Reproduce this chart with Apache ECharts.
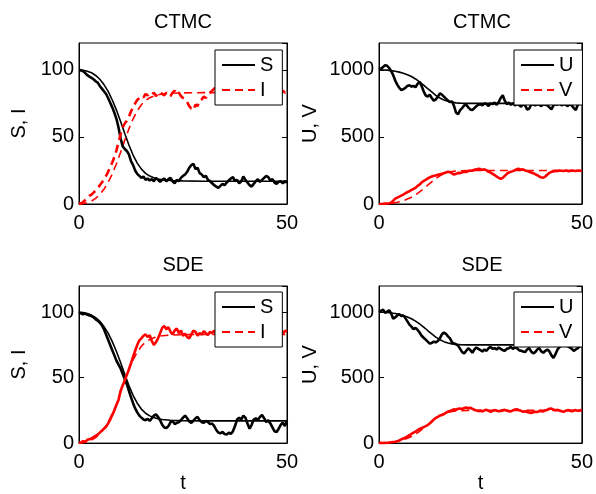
<!DOCTYPE html>
<html>
<head>
<meta charset="utf-8">
<script src="https://cdn.jsdelivr.net/npm/echarts@6/dist/echarts.min.js"></script>
<style>html,body{margin:0;padding:0;background:#fff;}#c{width:596px;height:494px;}</style>
</head>
<body>
<div id="c"></div>
<script>
// ---- time grids ----
var tNoisy = [0,0.5,1,1.5,2,2.5,3,3.5,4,4.5,5,5.5,6,6.5,7,7.5,8,8.5,9,9.5,10,10.5,11,11.5,12,12.5,13,13.5,14,14.5,15,15.5,16,16.5,17,17.5,18,18.5,19,19.5,20,20.5,21,21.5,22,22.5,23,23.5,24,24.5,25,25.5,26,26.5,27,27.5,28,28.5,29,29.5,30,30.5,31,31.5,32,32.5,33,33.5,34,34.5,35,35.5,36,36.5,37,37.5,38,38.5,39,39.5,40,40.5,41,41.5,42,42.5,43,43.5,44,44.5,45,45.5,46,46.5,47,47.5,48,48.5,49,49.5,50];
var tDet = [0,1,2,3,4,5,6,7,8,9,10,11,12,13,14,15,16,17,18,19,20,22,25,30,40,50];

// ---- deterministic solutions ----
var detS = [100,99.7,99,97.8,95.8,93,89,84,77.5,70,61.5,52.5,44,36.5,30.5,26,22.8,20.8,19.5,18.6,18,17.5,17.2,17,17,17];
var detI = [0,0.3,1,2.2,4.2,7,11,16,22.5,30,38.5,47.5,56,63.5,69.5,74,77.2,79.2,80.5,81.4,82,82.5,82.8,83,83,83];
var detU = [1000,999,998,994,990,983,975,963,950,932,910,886,860,835,810,790,775,765,758,754,752,750,750,750,750,750];
var detV = [0,1,2,6,10,17,25,37,50,68,90,114,140,165,190,210,225,235,242,246,248,250,250,250,250,250];

// ---- CTMC sample paths ----
var ctmcS = [100,99.5,99,97.5,96,95,94,93,91.5,90.5,88,86,84,82,79,75.5,72,68,63.5,57,49,43,41,39.5,37,32,29,25,22.5,21,19.5,20.5,18,19,17.5,18.5,17,19.5,18,16.5,18,19,17,18.5,19.5,17,15.5,18,17,19.5,21,22,24,27,29,30,26,27,23,22,20,21,18,17,15.5,14,13,12,13.5,15,14,16,17.5,19,20,17,18,15.5,17,20.5,18,16,14,13,15,17,18.5,16.5,18,19.5,21,20,17.5,18.5,16,15,16.5,17,15.5,17,16];
var ctmcI = [0,0.5,1.5,3,4.5,6,7,8.5,10,11.5,14,16,18.5,21,24,27.5,31,35,40,46,52,57,60,62,65,69,72,75,77.5,79,80.5,79.5,82,81,82.5,81.5,83,80.5,82,83.5,82,81,83,81.5,80.5,83,84.5,82,83,80.5,79,78,76,73,71,70,74,73,77,78,80,79,82,83,84.5,86,87,88,86.5,85,86,84,82.5,81,80,83,82,84.5,83,79.5,82,84,86,87,85,83,81.5,83.5,82,80.5,79,80,82.5,81.5,84,85,83.5,83,84.5,83,84];
var ctmcU = [1000,1010,1020,1035,1030,1015,990,960,920,890,865,850,855,865,880,885,875,880,870,895,910,880,840,810,800,815,790,770,780,800,825,815,800,785,770,760,765,730,680,670,700,715,735,740,720,705,700,715,730,740,745,735,750,745,730,750,745,755,740,760,790,810,770,745,755,740,750,735,745,740,725,745,735,705,710,740,745,735,745,740,730,745,740,735,720,705,735,745,740,750,735,745,740,730,745,735,715,700,740,755,745];
var ctmcV = [0,0,2,3,4,6,10,25,40,48,55,62,70,80,88,95,105,112,120,135,145,160,172,180,190,198,205,210,212,218,222,225,230,235,240,238,228,220,225,232,230,236,240,238,245,250,248,255,258,262,260,255,258,250,240,235,225,215,205,195,188,195,210,225,235,240,245,252,260,262,255,258,250,245,240,235,230,222,215,205,198,196,205,220,232,240,243,248,245,250,248,246,250,247,245,250,248,246,250,248,247];

// ---- SDE sample paths ----
var sdeS = [100,99,98.5,99,98,97.5,97,96,94.5,93.5,92,90,87,83,79,75,71,67,63,60,57,53,49,45,40,35,30.5,26.5,23.5,21,19.5,18,17.5,18.5,17,19,21,22,20,17.5,14,12,11.5,13,16,17,14.5,15.5,16,17.5,19.5,21,19,16.5,15.5,17,19,20,17.5,16,15.5,17,16,14.5,15,13,10,8,7.5,8.5,7,6.5,8,7,9,13,18,19.5,18,21,19.5,15,11,14,18,19,17.5,20,21.5,19,16,17.5,15,12,9,8.5,11,14,15.5,13,17];
var sdeI = [0,0.5,1.5,1,2.5,3,3.5,4.5,5.5,6.5,8,9.5,11,12.5,15,18,21.5,25,29,33,40,44,48,52,56.5,61,66,70.5,75,78.5,80,82,83,81,82.5,78,75,77,80,84,88,89.5,87,88.5,85,83,86,87.5,84,86,82,83.5,81,80,83,86,85,82,84,83,85.5,84,82.5,85,84,86,83,85,87,84,86,88,85,83,86,84,82,85,83,81,84,86,85,83,82,84,86,83,81,84,86,85,87,84,86,88,86,85,83,86,85];
var sdeU = [1000,1010,1020,995,1005,1015,990,950,960,975,985,970,975,955,930,905,890,870,880,865,845,820,805,790,775,760,765,775,770,780,800,830,845,835,815,800,770,760,755,745,720,695,685,705,725,710,690,715,730,720,710,700,715,705,725,735,720,725,715,730,720,710,705,720,725,735,720,730,725,710,705,700,695,715,725,700,685,695,715,725,700,690,705,715,700,670,650,680,715,735,745,760,755,740,730,720,705,715,725,740,745];
var sdeV = [0,2,0,3,1,4,6,8,10,15,20,28,35,42,52,60,70,80,88,98,108,115,122,130,138,150,165,180,192,200,210,215,222,232,240,245,252,258,255,262,265,260,268,272,266,270,262,255,250,244,248,242,250,254,246,240,246,252,248,243,246,250,254,248,244,242,250,256,258,252,246,240,244,238,234,230,236,240,238,244,246,242,250,255,262,264,256,250,254,248,244,240,246,252,248,244,248,252,246,250,252];

// ---- labels ----
var titles = ['CTMC', 'CTMC', 'SDE', 'SDE'];
var yNames = ['S, I', 'U, V', 'S, I', 'U, V'];
var yMax = [120, 1200, 120, 1200];
var yStep = [50, 500, 50, 500];

function pairs(t, v) { var o = []; for (var i = 0; i < t.length; i++) o.push([t[i], v[i]]); return o; }

var FONT = 'Liberation Sans';
var FS = 20;
var grids = [
  {left: 79, top: 43, width: 208, height: 161},
  {left: 379, top: 43, width: 206, height: 161},
  {left: 79, top: 286, width: 208, height: 159},
  {left: 379, top: 286, width: 206, height: 159}
];
grids.forEach(function (g) { g.show = true; g.borderColor = '#000'; g.borderWidth = 1; g.containLabel = false; });

var xAxes = [], yAxes = [], titleArr = [], legends = [];
for (var i = 0; i < 4; i++) {
  xAxes.push({
    gridIndex: i, type: 'value', min: 0, max: 50, interval: 50,
    name: i >= 2 ? 't' : '', nameLocation: 'middle', nameGap: 28,
    nameTextStyle: {color: '#000', fontSize: FS, fontFamily: FONT},
    axisLine: {show: true, onZero: false, lineStyle: {color: '#000', width: 1}},
    axisTick: {show: true, inside: true, length: 5, lineStyle: {color: '#000'}},
    axisLabel: {color: '#000', fontSize: FS, fontFamily: FONT, margin: 9},
    splitLine: {show: false}
  });
}
for (var i = 0; i < 4; i++) {
  yAxes.push({
    gridIndex: i, type: 'value', min: 0, max: yMax[i], interval: yStep[i], position: 'left',
    name: yNames[i], nameLocation: 'middle', nameRotate: 90, nameGap: (i % 2 === 0) ? 50 : 59,
    nameTextStyle: {color: '#000', fontSize: FS, fontFamily: FONT},
    axisLine: {show: true, onZero: false, lineStyle: {color: '#000', width: 1}},
    axisTick: {show: true, inside: true, length: 5, lineStyle: {color: '#000'}},
    axisLabel: {color: '#000', fontSize: FS, fontFamily: FONT, margin: 5, showMaxLabel: false,
      formatter: function (v) { return String(v); }},
    splitLine: {show: false}
  });
}
for (var i = 0; i < 4; i++) {
  yAxes.push({
    gridIndex: i, type: 'value', min: 0, max: yMax[i], interval: yStep[i], position: 'right',
    axisLine: {show: true, onZero: false, lineStyle: {color: '#000', width: 1}},
    axisTick: {show: true, inside: true, length: 5, lineStyle: {color: '#000'}},
    axisLabel: {show: false}, splitLine: {show: false}
  });
}
for (var i = 0; i < 4; i++) {
  var g = grids[i];
  titleArr.push({
    text: titles[i], left: g.left + g.width / 2, top: g.top - 31, textAlign: 'center', padding: 0,
    textStyle: {color: '#000', fontSize: FS, fontWeight: 'normal', fontFamily: FONT}
  });
}
var legNames = [['S', 'I'], ['U', 'V'], ['S', 'I'], ['U', 'V']];
var legLeft = [215, 514, 215, 514];
var legTop = [50, 50, 292, 292];
for (var i = 0; i < 4; i++) {
  legends.push({
    data: legNames[i], orient: 'vertical', left: legLeft[i], top: legTop[i],
    itemWidth: 33, itemHeight: 14, itemGap: 5, padding: [5, 9, 5, 6],
    borderColor: '#000', borderWidth: 1, borderRadius: 0, backgroundColor: '#fff',
    textStyle: {color: '#000', fontSize: FS, fontFamily: FONT},
    selectedMode: false, lineStyle: {width: 2}, itemStyle: {opacity: 0}
  });
}

var DASH = [8, 5];
function det(name, grid, t, v, color, dashed) {
  return {name: name, type: 'line', xAxisIndex: grid, yAxisIndex: grid, data: pairs(t, v),
    symbol: 'none', showSymbol: false, smooth: false, color: color, z: 2,
    lineStyle: {color: color, width: 1.6, type: dashed ? DASH : 'solid'}};
}
function noisy(name, grid, t, v, color, dash) {
  return {name: name, type: 'line', xAxisIndex: grid, yAxisIndex: grid, data: pairs(t, v),
    symbol: 'none', showSymbol: false, color: color, z: 3,
    lineStyle: {color: color, width: 2.6, type: dash ? DASH : 'solid'}};
}

var series = [
  det('S', 0, tDet, detS, '#000', false), det('I', 0, tDet, detI, '#ff0000', true),
  noisy('S', 0, tNoisy, ctmcS, '#000', false), noisy('I', 0, tNoisy, ctmcI, '#ff0000', true),
  det('U', 1, tDet, detU, '#000', false), det('V', 1, tDet, detV, '#ff0000', true),
  noisy('U', 1, tNoisy, ctmcU, '#000', false), noisy('V', 1, tNoisy, ctmcV, '#ff0000', false),
  det('S', 2, tDet, detS, '#000', false), det('I', 2, tDet, detI, '#ff0000', true),
  noisy('S', 2, tNoisy, sdeS, '#000', false), noisy('I', 2, tNoisy, sdeI, '#ff0000', false),
  det('U', 3, tDet, detU, '#000', false), det('V', 3, tDet, detV, '#ff0000', true),
  noisy('U', 3, tNoisy, sdeU, '#000', false), noisy('V', 3, tNoisy, sdeV, '#ff0000', false)
];

var chart = echarts.init(document.getElementById('c'), null, {renderer: 'canvas'});
chart.setOption({
  animation: false, backgroundColor: '#fff',
  title: titleArr, legend: legends, grid: grids,
  xAxis: xAxes, yAxis: yAxes, series: series
});
</script>
</body>
</html>
